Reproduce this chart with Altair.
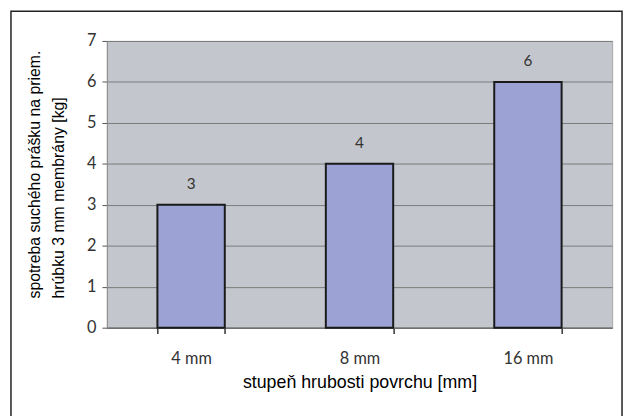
import altair as alt
import pandas as pd

categories = ["4 mm", "8 mm", "16 mm"]
values = [3, 4, 6]
y_ticks = [0, 1, 2, 3, 4, 5, 6, 7]

df = pd.DataFrame({"kat": categories, "hodnota": values})
frame_df = pd.DataFrame({"f": [0]})

x_enc = alt.X(
    "kat:N",
    sort=categories,
    scale=alt.Scale(paddingInner=0.6, paddingOuter=0.3),
    axis=alt.Axis(
        title="stupeň hrubosti povrchu [mm]",
        labelAngle=0,
        tickBand="extent",
        tickSize=6,
        tickWidth=1.5,
        labelPadding=17,
        labelFont="Lato",
        labelFontSize=16.5,
        labelColor="#333333",
        titleFont="Liberation Sans",
        titleFontSize=18,
        titleFontWeight="normal",
        titleColor="#000000",
        titleBaseline="alphabetic",
        titleY=60,
        domainColor="#707070",
        domainWidth=1.5,
        tickColor="#333333",
        grid=False,
    ),
)

y_enc = alt.Y(
    "hodnota:Q",
    scale=alt.Scale(domain=[0, 7], nice=False),
    axis=alt.Axis(
        title=["spotreba suchého prášku na priem.", "hrúbku 3 mm membrány [kg]"],
        values=y_ticks,
        tickSize=5,
        labelPadding=6,
        labelFont="Lato",
        labelFontSize=16.5,
        labelColor="#333333",
        titleFont="Liberation Sans",
        titleFontSize=16,
        titleFontWeight="normal",
        titleColor="#000000",
        titleLineHeight=24,
        titleAlign="left",
        titleAngle=270,
        titleBaseline="middle",
        titleX=-73,
        titleY=260,
        domainColor="#8c8c8c",
        tickColor="#555555",
        grid=True,
        gridColor="#7a7a7a",
        gridOpacity=1,
        gridWidth=1,
    ),
)

frame = alt.Chart(frame_df).mark_rect(
    fill="white", fillOpacity=0, stroke="#222222", strokeWidth=1.5, clip=False
).encode(
    x=alt.value(-97), x2=alt.value(521), y=alt.value(-30), y2=alt.value(395)
)

bars = alt.Chart(df).mark_bar(
    color="#9ca3d4", stroke="#1a1a1a", strokeWidth=2
).encode(x=x_enc, y=y_enc)

labels = alt.Chart(df).mark_text(
    dy=-21, font="Lato", fontSize=15.5, color="#333333", baseline="middle"
).encode(
    x=alt.X("kat:N", sort=categories), y="hodnota:Q", text="hodnota:Q"
)

chart = alt.layer(frame, bars, labels).properties(
    width=511,
    height=290,
    padding={"left": 100, "top": 31, "right": 12, "bottom": 87},
    autosize=alt.AutoSizeParams(type="none"),
    background="white",
).configure_view(
    fill="#c3c6cc", stroke="#a8a8a8", strokeWidth=1
)

chart.save("out.html", embed_options={"renderer": "svg", "actions": False})
